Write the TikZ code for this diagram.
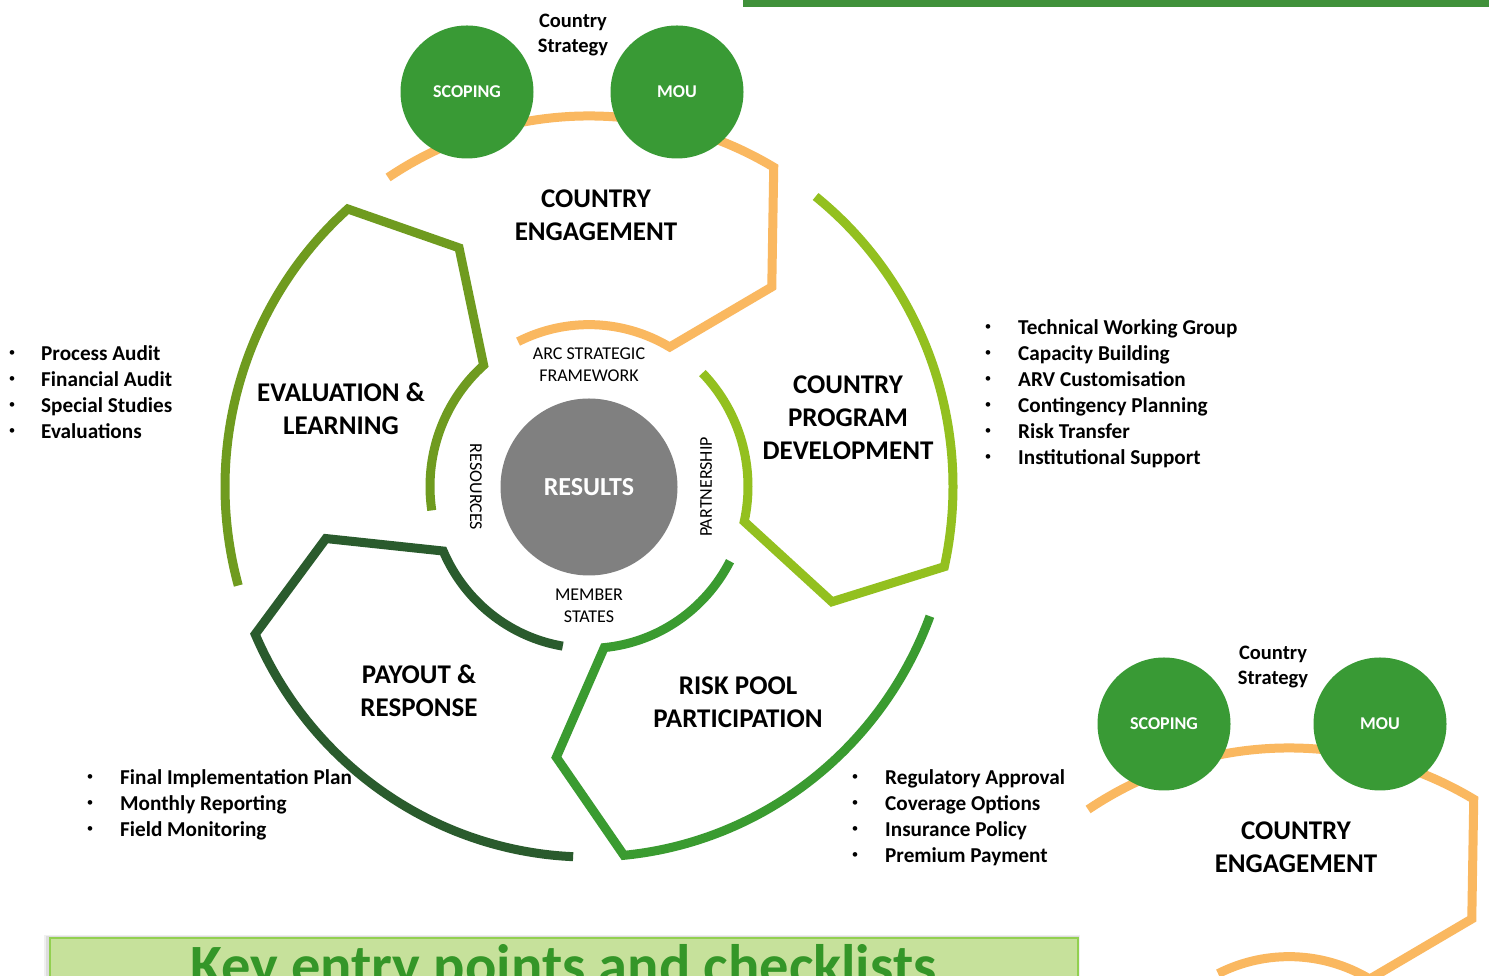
\documentclass[tikz,border=0pt]{standalone}
\usepackage{fontspec}
\setmainfont{Carlito}
\definecolor{ceOrange}{RGB}{250,184,96}
\definecolor{elGreen}{RGB}{111,155,31}
\definecolor{cpGreen}{RGB}{147,192,31}
\definecolor{rpGreen}{RGB}{58,155,48}
\definecolor{prGreen}{RGB}{42,91,45}
\definecolor{circG}{RGB}{57,154,53}
\definecolor{resGray}{RGB}{128,128,128}
\definecolor{barG}{RGB}{64,145,58}
\definecolor{banFill}{RGB}{198,225,155}
\definecolor{banLine}{RGB}{146,208,80}
\definecolor{banText}{RGB}{52,150,40}
\newcommand{\ringseg}[2]{%
  \pgfmathsetmacro{\rsAo}{#2+64}%
  \pgfmathsetmacro{\rsAi}{#2+57}%
  \pgfmathsetmacro{\rsAt}{#2-12.5}%
  \draw[seg, draw=#1] (\rsAo:364pt) arc[start angle=\rsAo, end angle=#2, radius=364pt]
     -- (\rsAt:268pt) -- (#2:159pt) arc[start angle=#2, end angle=\rsAi, radius=159pt];}
\begin{document}
\begin{tikzpicture}[x=1pt,y=1pt,
  seg/.style={line width=9pt, line join=miter},
  lbl/.style={font=\fontsize{27}{33}\selectfont\bfseries, align=center, inner sep=0pt},
  innerlbl/.style={font=\fontsize{18}{22}\selectfont, align=center, inner sep=0pt},
  smalllbl/.style={font=\fontsize{20.5}{25}\selectfont\bfseries, align=center, inner sep=0pt},
  bul/.style={font=\fontsize{21.2}{26}\selectfont\bfseries, anchor=base west, inner sep=0pt},
  dot/.style={font=\fontsize{13}{16}\selectfont, anchor=center, inner sep=0pt},
  stage/.style={circle, fill=circG, minimum size=133pt, inner sep=0pt, text=white,
    font=\fontsize{18}{20}\selectfont\bfseries}]
\useasboundingbox (0,0) rectangle (1489,976);
\clip (0,0) rectangle (1489,976);
\fill[white] (0,0) rectangle (1489,976);
% top bar
\fill[barG] (743,969) rectangle (1489,976);
% ring segments
\begin{scope}[shift={(589,489.5)}, yscale=1.018]
  \ringseg{ceOrange}{59.5}
  \ringseg{cpGreen}{-12.5}
  \ringseg{rpGreen}{-84.5}
  \ringseg{prGreen}{-156.5}
  \ringseg{elGreen}{131.5}
\end{scope}
% top stage circles
\node[stage] (scoping) at (467,884) {SCOPING};
\node[stage] (mou) at (677,884) {MOU};
\node[smalllbl] (strat) at (573,941) {Country\\Strategy};
% centre
\node[circle, fill=resGray, minimum size=177pt, inner sep=0pt, text=white,
  font=\fontsize{26}{30}\selectfont\bfseries] (results) at (589,489) {RESULTS};
\node[innerlbl] (arc) at (589,611) {ARC STRATEGIC\\FRAMEWORK};
\node[innerlbl] (member) at (589,370) {MEMBER\\STATES};
\node[innerlbl, rotate=-90] (resources) at (476,489) {RESOURCES};
\node[innerlbl, rotate=90] (partner) at (706,489) {PARTNERSHIP};
% segment labels
\node[lbl] (ce) at (596,760.5) {COUNTRY\\ENGAGEMENT};
\node[lbl] (el) at (341,567.5) {EVALUATION \&\\LEARNING};
\node[lbl] (cp) at (848,558) {COUNTRY\\PROGRAM\\DEVELOPMENT};
\node[lbl] (rp) at (738,273.5) {RISK POOL\\PARTICIPATION};
\node[lbl] (pr) at (419,285.5) {PAYOUT \&\\RESPONSE};
% bullet lists
\foreach \t [count=\i] in {Process Audit, Financial Audit, Special Studies, Evaluations} {
  \node[dot] (evb\i) at (12,{648-26*\i}) {\textbullet};
  \node[bul] (evt\i) at (41,{641-26*\i}) {\t};
}
\foreach \t [count=\i] in {Technical Working Group, Capacity Building, ARV Customisation, Contingency Planning, Risk Transfer, Institutional Support} {
  \node[dot] (cpb\i) at (988,{674-26*\i}) {\textbullet};
  \node[bul] (cpt\i) at (1018,{667-26*\i}) {\t};
}
\foreach \t [count=\i] in {Final Implementation Plan, Monthly Reporting, Field Monitoring} {
  \node[dot] (prb\i) at (90,{224-26*\i}) {\textbullet};
  \node[bul] (prt\i) at (120,{217-26*\i}) {\t};
}
\foreach \t [count=\i] in {Regulatory Approval, Coverage Options, Insurance Policy, Premium Payment} {
  \node[dot] (rpb\i) at (855,{224-26*\i}) {\textbullet};
  \node[bul] (rpt\i) at (885,{217-26*\i}) {\t};
}
% bottom-right copy of country engagement
\begin{scope}[shift={(700,-632)}]
  \begin{scope}[shift={(589,489.5)}, yscale=1.018]
    \ringseg{ceOrange}{59.5}
  \end{scope}
  \node[stage] (scoping2) at (464,884) {SCOPING};
  \node[stage] (mou2) at (680,884) {MOU};
  \node[smalllbl] (strat2) at (573,941) {Country\\Strategy};
  \node[lbl] (ce2) at (596,760.5) {COUNTRY\\ENGAGEMENT};
\end{scope}
% banner
\fill[black, opacity=0.06] (44,-20) rectangle (1080,41);
\fill[black, opacity=0.08] (46,-20) rectangle (1079,40);
\draw[banLine, fill=banFill, line width=2pt] (50,-20) rectangle (1078,38);
\node[font=\fontsize{58.5}{66}\selectfont\bfseries, text=banText, anchor=base, inner sep=0pt] (banner) at (563.5,-9.7) {Key entry points and checklists};
\end{tikzpicture}
\end{document}
